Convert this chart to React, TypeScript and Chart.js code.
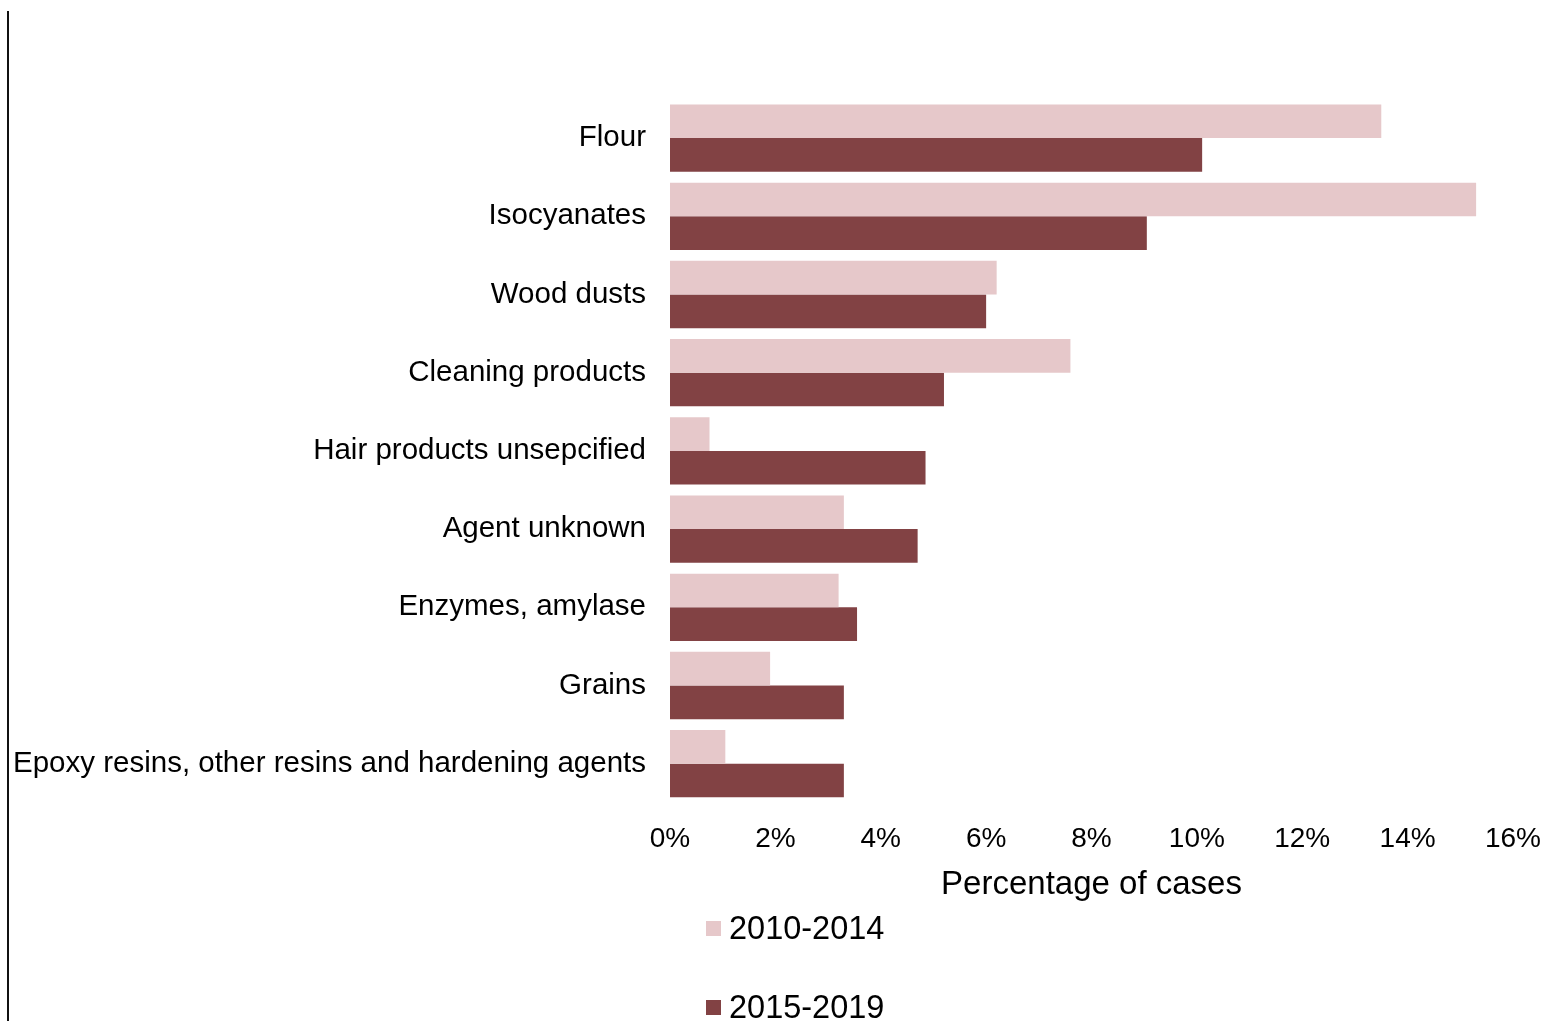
import React, { useEffect, useRef } from "react";
import { Chart, registerables } from "chart.js";

Chart.register(...registerables);

const categories = [
  "Flour",
  "Isocyanates",
  "Wood dusts",
  "Cleaning products",
  "Hair products unsepcified",
  "Agent unknown",
  "Enzymes, amylase",
  "Grains",
  "Epoxy resins, other resins and hardening agents",
];
const seriesLabels = ["2010-2014", "2015-2019"];
const values2010_2014 = [13.5, 15.3, 6.2, 7.6, 0.75, 3.3, 3.2, 1.9, 1.05];
const values2015_2019 = [10.1, 9.05, 6.0, 5.2, 4.85, 4.7, 3.55, 3.3, 3.3];
const seriesColors = ["#E6C8CA", "#824244"];
const xTicks = [0, 2, 4, 6, 8, 10, 12, 14, 16];

const FONT = "'Liberation Sans', Arial, sans-serif";

export default function App() {
  const ref = useRef<HTMLCanvasElement | null>(null);

  useEffect(() => {
    if (!ref.current) return;
    const chart = new Chart(ref.current, {
      type: "bar",
      data: {
        labels: categories,
        datasets: [
          {
            label: seriesLabels[0],
            data: values2010_2014,
            backgroundColor: seriesColors[0],
            categoryPercentage: 0.86,
            barPercentage: 1.0,
          },
          {
            label: seriesLabels[1],
            data: values2015_2019,
            backgroundColor: seriesColors[1],
            categoryPercentage: 0.86,
            barPercentage: 1.0,
          },
        ],
      },
      options: {
        indexAxis: "y",
        animation: false,
        responsive: false,
        maintainAspectRatio: false,
        layout: { padding: { top: 99, right: 35, bottom: 116, left: 0 } },
        plugins: {
          legend: { display: false },
          tooltip: { enabled: false },
        },
        scales: {
          x: {
            min: xTicks[0],
            max: xTicks[xTicks.length - 1],
            grid: { display: false, drawTicks: false },
            border: { display: false },
            ticks: {
              stepSize: 2,
              padding: 20,
              color: "#000",
              font: { family: FONT, size: 28 },
              callback: (v: any) => v + "%",
            },
            title: {
              display: true,
              text: "Percentage of cases",
              color: "#000",
              font: { family: FONT, size: 33 },
              padding: { top: -11, bottom: 0 },
            },
            afterFit: (scale: any) => {
              scale.paddingRight = 0;
            },
          },
          y: {
            grid: { display: false, drawTicks: false },
            border: { display: false },
            ticks: {
              padding: 24,
              color: "#000",
              font: { family: FONT, size: 29.5 },
            },
            afterFit: (scale: any) => {
              scale.width = 670;
            },
          },
        },
      },
    });
    return () => chart.destroy();
  }, []);

  const legendTops = [913, 992];

  return (
    <div style={{ position: "absolute", left: 0, top: 0, width: 1548, height: 1021, background: "#fff", overflow: "hidden" }}>
      <canvas ref={ref} width={1548} height={1021} style={{ position: "absolute", left: 0, top: 0, width: 1548, height: 1021 }} />
      <div style={{ position: "absolute", left: 7, top: 11, width: 2, height: 1010, background: "#111" }} />
      {seriesLabels.map((lab, i) => (
        <div key={lab} style={{ position: "absolute", left: 706, top: legendTops[i], height: 30, display: "flex", alignItems: "center", fontFamily: FONT, fontSize: 32.5, color: "#000", whiteSpace: "nowrap" }}>
          <span style={{ display: "inline-block", width: 15, height: 15, background: seriesColors[i], marginRight: 8 }} />
          <span>{lab}</span>
        </div>
      ))}
    </div>
  );
}
